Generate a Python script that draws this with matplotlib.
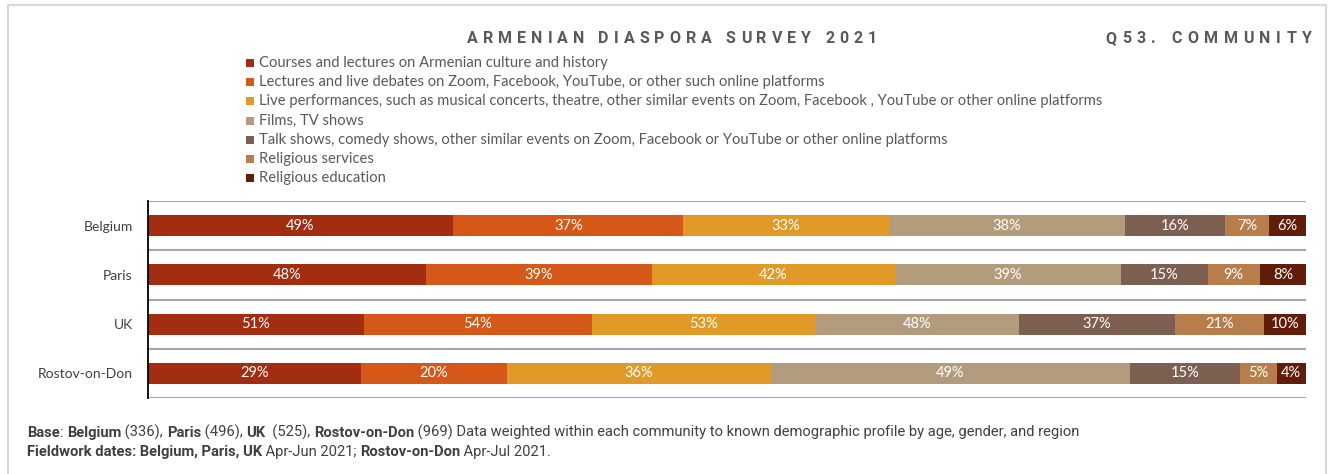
import matplotlib
matplotlib.use('Agg')
import matplotlib.pyplot as plt
from matplotlib.patches import Rectangle
import numpy as np

# ---------------- data ----------------
categories = ['Belgium', 'Paris', 'UK', 'Rostov-on-Don']
series_names = [
    'Courses and lectures on Armenian culture and history',
    'Lectures and live debates on Zoom, Facebook, YouTube, or other such online platforms',
    'Live performances, such as musical concerts, theatre, other similar events on Zoom, Facebook , YouTube or other online platforms',
    'Films, TV shows',
    'Talk shows, comedy shows, other similar events on Zoom, Facebook or YouTube or other online platforms',
    'Religious services',
    'Religious education',
]
courses = [49, 48, 51, 29]
lectures_online = [37, 39, 54, 20]
live_performances = [33, 42, 53, 36]
films_tv = [38, 39, 48, 49]
talk_shows = [16, 15, 37, 15]
religious_services = [7, 9, 21, 5]
religious_education = [6, 8, 10, 4]
series_values = [courses, lectures_online, live_performances, films_tv,
                 talk_shows, religious_services, religious_education]
colors = ['#A32D10', '#D55818', '#E19A28', '#B39C7E', '#7D5F52', '#B77E4C', '#621D0A']

title_text = 'ARMENIAN DIASPORA SURVEY 2021'
right_title = 'Q53. COMMUNITY'
foot1 = [('Base', True), (': ', False), ('Belgium', True), (' (336), ', False), ('Paris', True),
         (' (496), ', False), ('UK', True), ('  (525), ', False), ('Rostov-on-Don', True),
         (' (969) Data weighted within each community to known demographic profile by age, gender, and region', False)]
foot2 = [('Fieldwork dates: Belgium, Paris, UK', True), (' Apr-Jun 2021; ', False),
         ('Rostov-on-Don', True), (' Apr-Jul 2021.', False)]

# ---------------- layout ----------------
W, H = 1342, 474
fig = plt.figure(figsize=(W / 100, H / 100), dpi=100)
fig.patch.set_facecolor('white')
def fx(x): return x / W
def fy(y): return 1 - y / H

TXT = 'Lato'
renderer = fig.canvas.get_renderer()

def advance(s, **kw):
    t1 = fig.text(0, 0, 'H' + s + 'H', **kw)
    t2 = fig.text(0, 0, 'HH', **kw)
    w = t1.get_window_extent(renderer).width - t2.get_window_extent(renderer).width
    t1.remove(); t2.remove()
    return w

def spaced(x0, y, s, target, **kw):
    ws = [advance(c, **kw) for c in s]
    extra = (target - sum(ws[:-1]) - ws[-1]) / (len(s) - 1)
    x = x0
    for c, w in zip(s, ws):
        fig.text(fx(x), fy(y), c, ha='left', va='baseline', **kw)
        x += w + extra

def rich(x0, y, pieces, **kw):
    x = x0
    for s, b in pieces:
        k = dict(kw); k['fontweight'] = 'bold' if b else 'normal'
        fig.text(fx(x), fy(y), s, ha='left', va='baseline', **k)
        x += advance(s, **k)

# frame
fig.add_artist(Rectangle((fx(8), fy(490)), fx(1326) - fx(8), fy(5) - fy(490),
                         transform=fig.transFigure, fill=False, ec='#D9D9D9', lw=1.5))

# titles (baseline y)
tkw = dict(fontsize=11.5, fontweight='bold', color='#595959', family='Roboto')
spaced(467, 43, title_text, 410, **tkw)
spaced(1105, 43, right_title, 207, **tkw)

# legend
leg_y0, leg_dy = 63, 19.2
for i, (name, col) in enumerate(zip(series_names, colors)):
    y = leg_y0 + i * leg_dy
    fig.add_artist(Rectangle((fx(246), fy(y + 4)), 8 / W, 8 / H, transform=fig.transFigure,
                             fc=col, ec='none'))
    fig.text(fx(259), fy(y), name, ha='left', va='center', fontsize=10.6, color='#595959', family=TXT)

# axes
ax = fig.add_axes([fx(148), fy(398), (1306 - 148) / W, (398 - 201) / H])
vals = np.array(series_values, dtype=float)
totals = vals.sum(axis=0)
shares = vals / totals
ypos = np.arange(len(categories))
left = np.zeros(len(categories))
for j in range(len(series_values)):
    ax.barh(ypos, shares[j], left=left, height=0.43, color=colors[j], edgecolor='none')
    for i in range(len(categories)):
        ax.text(left[i] + shares[j][i] / 2, ypos[i], f'{int(vals[j][i])}%', ha='center', va='center',
                color='white', fontsize=10.5, family=TXT, fontweight='normal')
    left += shares[j]

ax.set_xlim(0, 1)
ax.set_ylim(len(categories) - 0.5, -0.5)
ax.set_yticks(ypos)
ax.set_yticklabels(categories, fontsize=10, color='#404040', family=TXT)
ax.set_yticks(np.arange(len(categories) + 1) - 0.5, minor=True)
ax.tick_params(axis='y', which='both', length=0, pad=11)
ax.set_xticks([])
ax.grid(axis='y', which='minor', color='#A6A6A6', lw=1.5)
ax.set_axisbelow(True)
for s in ['top', 'right', 'bottom']:
    ax.spines[s].set_visible(False)
ax.spines['left'].set_color('black')
ax.spines['left'].set_linewidth(1.3)
ax.set_facecolor('none')

# footnotes (baseline y)
fkw = dict(fontsize=10.6, color='#404040', family='Roboto')
rich(27, 437, foot1, **fkw)
rich(27, 456, foot2, **fkw)

fig.savefig('out.png', dpi=100)
